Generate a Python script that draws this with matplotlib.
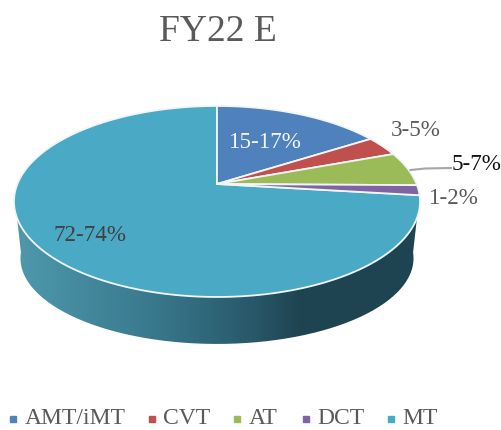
import numpy as np
import matplotlib
matplotlib.use("Agg")
import matplotlib.pyplot as plt
from matplotlib.patches import PathPatch
from matplotlib.path import Path

plt.rcParams['font.family'] = ['Liberation Serif', 'DejaVu Serif']

title = "FY22 E"
categories = ["AMT/iMT", "CVT", "AT", "DCT", "MT"]
shares = [16.0, 3.4, 5.8, 1.7, 73.1]
slice_labels = ["15-17%", "3-5%", "5-7%", "1-2%", "72-74%"]
colors = ["#4F81BD", "#C0504D", "#9BBB59", "#8064A2", "#4AA9C4"]

# perspective disc: apex in pixels, and projective constants
APEX = (217.0, 184.0)
K, A, B = 0.183, 92.3, 199.6


def rim(theta, sx=1.0, sy=1.0, dy=0.0):
    """Clockwise-from-top angle -> pixel position on the tilted disc."""
    u, v = np.sin(theta), np.cos(theta)
    w = 1 + K * v
    return APEX[0] + sx * B * u / w, APEX[1] + dy - sy * A * v / w


fig = plt.figure(figsize=(5.02, 4.30), dpi=100, facecolor="white")
ax = fig.add_axes([0, 0, 1, 1])
ax.set_xlim(0, 502)
ax.set_ylim(430, 0)
ax.axis("off")

# side wall with horizontal gradient
t_top = np.linspace(np.radians(96.7), np.radians(263.3), 200)
xt, yt = rim(t_top)
xb, yb = rim(t_top[::-1], sx=0.968, sy=0.897, dy=58.6)
wall = np.column_stack([np.r_[xt, xb], np.r_[yt, yb]])
stops = np.array([[0.31, 0.60, 0.68], [0.22, 0.47, 0.55],
                  [0.16, 0.35, 0.42], [0.12, 0.27, 0.32], [0.12, 0.27, 0.32]])
pos = np.array([0.0, 0.35, 0.58, 0.70, 1.0])
g = np.linspace(0, 1, 400)
grad = np.stack([np.interp(g, pos, stops[:, i]) for i in range(3)], axis=-1)[None, :, :]
im = ax.imshow(grad, extent=(14, 420, 350, 190), aspect="auto", zorder=1)
patch = PathPatch(Path(wall), transform=ax.transData, fc="none", ec="none")
ax.add_patch(patch)
im.set_clip_path(patch)
ax.set_xlim(0, 502)
ax.set_ylim(430, 0)

# top wedges
edges = np.radians(np.r_[0, np.cumsum(shares)] * 3.6)
for i, c in enumerate(colors):
    th = np.linspace(edges[i], edges[i + 1], max(3, int(shares[i] * 6)))
    x, y = rim(th)
    ax.fill(np.r_[APEX[0], x], np.r_[APEX[1], y], fc=c, ec="#F2F5F8", lw=1.3,
            joinstyle="round", zorder=2 + (i != 4))

# labels
ax.text(218, 32, title, fontsize=27, color="#595959", ha="center", va="center")
label_pos = [(265.5, 142.5), (416, 130.5), (477, 164), (453.5, 198.5), (90.5, 235.5)]
label_col = ["#F4F6F9", "#595959", "#111111", "#595959", "#404040"]
for s, p, c in zip(slice_labels, label_pos, label_col):
    ax.text(p[0], p[1], s, fontsize=16.6, color=c, ha="center", va="center", zorder=5)
ax.plot([410.5, 425, 451], [170, 168.5, 168], color="#A6A6A6", lw=1.5, zorder=4)

# legend
marker_x = [13, 152, 237, 306, 391]
text_x = [25, 163, 249, 317, 402]
for c, name, mx, tx in zip(colors, categories, marker_x, text_x):
    ax.plot([mx], [419], ls="none", marker="s", ms=4.6, mfc=c, mec=c)
    ax.text(tx, 418, name, fontsize=17, color="#595959", ha="left", va="center")

fig.savefig("out.png", dpi=100, facecolor="white")
